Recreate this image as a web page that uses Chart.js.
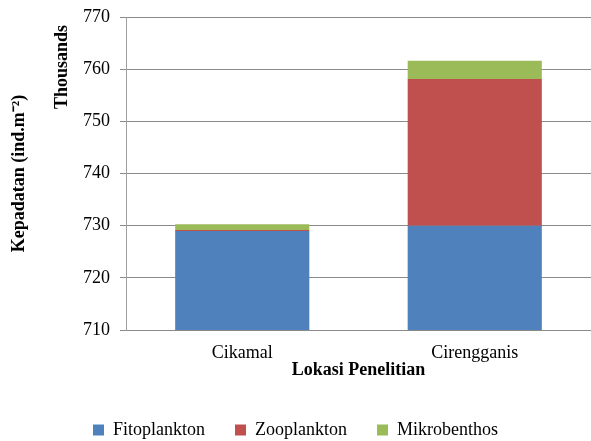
<!DOCTYPE html>
<html>
<head>
<meta charset="utf-8">
<script src="https://cdn.jsdelivr.net/npm/chart.js@4"></script>
<style>
  html, body { margin: 0; padding: 0; background: #fff; }
  #wrap { width: 591px; height: 441px; }
</style>
</head>
<body>
<div id="wrap"><canvas id="chart"></canvas></div>
<script>
// data (in thousands of ind.m-2)
var lokasi = ['Cikamal', 'Cirengganis'];
var fitoplankton = [729.0, 730.0];
var zooplankton = [0.15, 28.1];
var mikrobenthos = [1.1, 3.5];
var yTicks = [710, 720, 730, 740, 750, 760, 770];

var serif = '"Liberation Serif", "Times New Roman", serif';

// second y title ("Thousands") drawn beside the ticks
var thousandsLabel = {
  id: 'thousandsLabel',
  afterDraw: function(chart) {
    var ctx = chart.ctx;
    ctx.save();
    ctx.translate(62, 67);
    ctx.rotate(-Math.PI / 2);
    ctx.font = 'bold 18px ' + serif;
    ctx.fillStyle = '#000';
    ctx.textAlign = 'center';
    ctx.textBaseline = 'middle';
    ctx.fillText('Thousands', 0, 0);
    ctx.restore();
  }
};

new Chart(document.getElementById('chart'), {
  type: 'bar',
  data: {
    labels: lokasi,
    datasets: [
      { label: 'Fitoplankton', data: fitoplankton, backgroundColor: '#4F81BD' },
      { label: 'Zooplankton', data: zooplankton, backgroundColor: '#C0504D' },
      { label: 'Mikrobenthos', data: mikrobenthos, backgroundColor: '#9BBB59' }
    ]
  },
  options: {
    responsive: true,
    maintainAspectRatio: false,
    animation: false,
    layout: { padding: { top: 0, right: 0, left: 0, bottom: 0 } },
    datasets: { bar: { categoryPercentage: 1, barPercentage: 0.577 } },
    plugins: {
      legend: {
        position: 'bottom',
        maxHeight: 50,
        labels: {
          font: { family: serif, size: 18 },
          color: '#000',
          boxWidth: 11,
          boxHeight: 11,
          padding: 30
        }
      },
      tooltip: { enabled: false }
    },
    scales: {
      x: {
        stacked: true,
        afterFit: function(scale) { scale.height = 61; },
        grid: { display: false, drawTicks: false },
        border: { color: '#8a8a8a', width: 1 },
        ticks: { font: { family: serif, size: 18 }, color: '#000', padding: 12 },
        title: {
          display: true,
          text: 'Lokasi Penelitian',
          font: { family: serif, size: 18, weight: 'bold' },
          color: '#000',
          padding: { top: 0, bottom: 10 }
        }
      },
      y: {
        stacked: true,
        min: 710,
        max: 770,
        afterBuildTicks: function(scale) {
          scale.ticks = yTicks.map(function(v) { return { value: v }; });
        },
        afterFit: function(scale) { scale.width = 126; scale.paddingTop = 17; },
        grid: { color: '#8a8a8a', tickLength: 6 },
        border: { color: '#a0a0a0', width: 1 },
        ticks: { font: { family: serif, size: 18 }, color: '#000', padding: 10 },
        title: {
          display: true,
          text: 'Kepadatan (ind.m\u207B\u00B2)',
          font: { family: serif, size: 18, weight: 'bold' },
          color: '#000',
          padding: { top: 9, bottom: 0 }
        }
      }
    }
  },
  plugins: [thousandsLabel]
});
</script>
</body>
</html>
